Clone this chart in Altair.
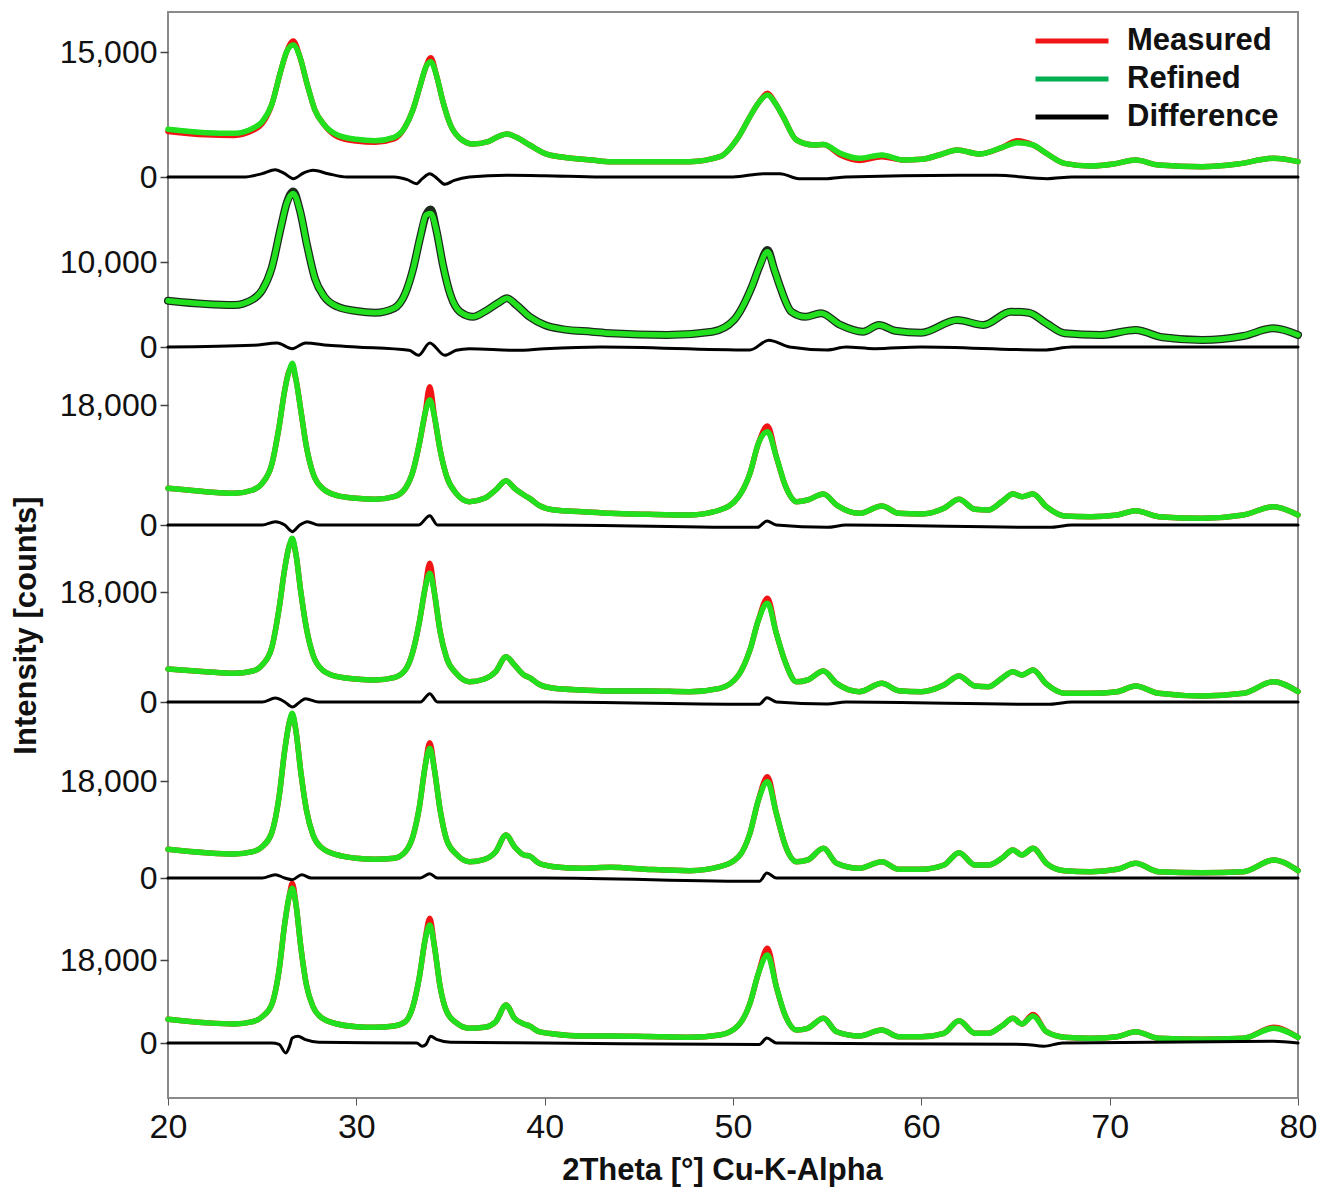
import altair as alt
import pandas as pd

# ---------------------------------------------------------------------------
# 2-theta sampling positions (degrees)
# ---------------------------------------------------------------------------
THETA_P1 = [20, 22, 23.5, 24.5, 25, 25.5, 26.0, 26.3, 26.65, 27.0,
            27.4, 27.8, 28.3, 29, 30, 31, 32, 32.6, 33.0, 33.4,
            33.7, 33.95, 34.25, 34.6, 35.0, 35.5, 36.2, 37.0, 37.6, 38.0,
            38.5, 39.2, 40, 41, 42.5, 43.5, 45.3, 47.7, 49.3, 50.3,
            51.0, 51.4, 51.83, 52.25, 52.66, 53.37, 54.3, 54.8, 55.7, 56.7,
            57.9, 59.06, 60.0, 60.95, 61.9, 63.1, 64.3, 65.1, 65.93, 66.64,
            67.6, 69.0, 70.2, 71.38, 72.6, 74.9, 76.8, 78.7, 80]

THETA_P2 = [20, 22, 23.5, 24.5, 25, 25.5, 26.0, 26.3, 26.65, 27.0,
            27.4, 27.8, 28.3, 29, 30, 31, 32, 32.6, 33.0, 33.4,
            33.7, 33.95, 34.25, 34.6, 35.0, 35.5, 36.2, 36.8, 37.5, 38.0,
            38.5, 39.2, 40, 41, 42.5, 43.5,
            46.5, 48.9, 50.05, 51.0, 51.4, 51.83, 52.2, 52.5, 53.1, 53.84,
            54.67, 55.7, 56.9, 57.75, 58.6, 60.0, 61.9, 63.3, 64.75, 65.7,
            66.64, 67.6, 69.5, 71.38, 72.8, 74.9, 77.1, 78.7, 80]

THETA_SHARP = [20, 22, 23.5, 24.5, 25, 25.5, 25.9, 26.2, 26.45, 26.6,
               26.8, 27.05, 27.35, 27.7, 28.2, 29, 30, 31, 32, 32.6,
               33.0, 33.35, 33.65, 33.9, 34.15, 34.45, 34.8, 35.3, 36.0, 36.8,
               37.4, 37.95, 38.4, 38.9, 39.2, 39.7, 40.5, 42, 43.5,
               45.5, 47.7, 49.3, 50.3, 50.9, 51.35, 51.83, 52.3, 52.8, 53.37,
               53.96, 54.8, 55.5, 56.7, 57.9, 58.8, 60.0, 61.2, 62.0, 62.85,
               63.56, 64.27, 64.86, 65.34, 65.93, 66.64, 67.6, 69.0, 70.4, 71.38,
               72.6, 74.9, 77.1, 78.7, 80]

# ---------------------------------------------------------------------------
# Intensities (counts): refined profile and measured data
# ---------------------------------------------------------------------------
REFINED_P1 = [5720, 5320, 5240, 5840, 6640, 8640, 12840, 15040, 15840, 14440,
              11040, 8040, 6240, 5040, 4520, 4360, 4760, 6040, 8040, 11040,
              13240, 13840, 12240, 9040, 6240, 4640, 3960, 4240, 4920, 5160,
              4760, 3840, 2840, 2360, 2040, 1840, 1840, 1840, 2440, 4840,
              7640, 9040, 9840, 8840, 7240, 4440, 3840, 3900, 2840, 2240,
              2640, 2040, 2120, 2640, 3240, 2760, 3560, 4120, 3840, 2840,
              1640, 1320, 1560, 2040, 1440, 1240, 1560, 2240, 1840]
MEASURED_P1 = [5470, 5070, 4990, 5590, 6400, 8640, 12840, 15040, 16320, 14440,
               11040, 8040, 6240, 4840, 4320, 4160, 4560, 6040, 8040, 11040,
               13240, 14320, 12240, 9040, 6240, 4640, 3960, 4240, 4920, 5160,
               4760, 3840, 2840, 2360, 2040, 1840, 1840, 1840, 2440, 4840,
               7640, 9040, 10040, 8840, 7240, 4440, 3840, 3900, 2640, 1990,
               2440, 2040, 2120, 2640, 3240, 2760, 3560, 4360, 3840, 2840,
               1640, 1320, 1560, 2040, 1440, 1240, 1560, 2240, 1840]

REFINED_P2 = [5450, 5060, 4940, 5610, 6700, 9250, 14150, 16900, 18070, 16110,
              11800, 8080, 5920, 4740, 4230, 4030, 4550, 6310, 9060, 12970,
              15520, 15720, 13760, 9640, 6120, 4150, 3560, 4150, 5140, 5730,
              4940, 3560, 2590, 2080, 1800, 1610,
              1410, 1800, 3180, 7090, 9440, 11200, 9060, 7090, 4150, 3560,
              3960, 2590, 1800, 2590, 1920, 1680, 3180, 2590, 4150, 4030,
              2790, 1610, 1410, 2000, 1140, 820, 1290, 2200, 1410]
MEASURED_P2 = [5450, 5060, 4940, 5610, 6700, 9250, 14150, 16900, 18300, 16110,
               11800, 8080, 5920, 4740, 4230, 4030, 4550, 6310, 9060, 12970,
               15520, 16190, 13760, 9640, 6120, 4150, 3560, 4150, 5140, 5730,
               4940, 3560, 2590, 2080, 1800, 1610,
               1410, 1800, 3180, 7090, 9440, 11400, 9060, 7090, 4150, 3560,
               3960, 2590, 1800, 2590, 1920, 1680, 3180, 2590, 4150, 4030,
               2790, 1610, 1410, 2000, 1140, 820, 1290, 2200, 1410]

REFINED_P3 = [5500, 5000, 4750, 5250, 6250, 9000, 14750, 20250, 23250, 24250,
              21750, 17250, 11750, 7750, 5500, 4400, 4000, 3850, 4250, 5500,
              8000, 12250, 16750, 18750, 16250, 11250, 7250, 4750, 3500, 4000,
              5250, 6650, 5500, 4500, 4000, 2950, 2250, 2000, 1750,
              1600, 1500, 2250, 4250, 7750, 12250, 14000, 10250, 5750, 3500,
              3750, 4650, 3000, 1750, 2850, 1750, 1650, 2500, 3850, 2350,
              2250, 3500, 4650, 4250, 4650, 2750, 1350, 1250, 1500, 2150,
              1250, 1000, 1500, 2750, 1500]
MEASURED_P3 = [5500, 5000, 4750, 5250, 6250, 9000, 14750, 20250, 23250, 23500,
               21750, 17250, 11750, 7750, 5500, 4400, 4000, 3850, 4250, 5500,
               8000, 12250, 16750, 20750, 16250, 11250, 7250, 4750, 3500, 4000,
               5250, 6650, 5500, 4500, 4000, 2950, 2250, 2000, 1750,
               1600, 1500, 2250, 4250, 7750, 12250, 14850, 10250, 5750, 3500,
               3750, 4650, 3000, 1750, 2850, 1750, 1650, 2500, 3850, 2350,
               2250, 3500, 4650, 4250, 4650, 2750, 1350, 1250, 1500, 2150,
               1250, 1000, 1500, 2750, 1500]

REFINED_P4 = [5400, 4960, 4690, 5070, 6050, 8780, 15330, 21870, 25690, 26780,
              24050, 18050, 12060, 7690, 5240, 4140, 3760, 3600, 3980, 5240,
              8230, 13140, 18600, 21050, 17780, 11500, 7150, 4690, 3320, 3760,
              4960, 7410, 6050, 4420, 3980, 2900, 2240, 1960, 1800,
              1800, 1690, 2240, 4420, 8510, 13420, 16150, 11240, 6330, 3320,
              3600, 5070, 3060, 1690, 3060, 1850, 1690, 2780, 4250, 2620,
              2510, 3880, 4960, 4420, 5240, 2950, 1420, 1420, 1690, 2620,
              1420, 980, 1420, 3320, 1690]
MEASURED_P4 = [5400, 4960, 4690, 5070, 6050, 8780, 15330, 21870, 25690, 26300,
               24050, 18050, 12060, 7690, 5240, 4140, 3760, 3600, 3980, 5240,
               8230, 13140, 18600, 22690, 17780, 11500, 7150, 4690, 3320, 3760,
               4960, 7410, 6050, 4420, 3980, 2900, 2240, 1960, 1800,
               1800, 1690, 2240, 4420, 8510, 13420, 16970, 11240, 6330, 3320,
               3600, 5070, 3060, 1690, 3060, 1850, 1690, 2780, 4250, 2620,
               2510, 3880, 4960, 4420, 5240, 2950, 1420, 1420, 1690, 2620,
               1420, 980, 1420, 3320, 1690]

REFINED_P5 = [5330, 4700, 4450, 4880, 5810, 8300, 15090, 23760, 29010, 30570,
              27150, 19730, 12620, 7980, 5510, 4270, 3660, 3470, 3660, 4880,
              7670, 13230, 20660, 24070, 20040, 12620, 7050, 4450, 3030, 3470,
              4880, 7980, 5810, 4270, 4080, 2730, 2100, 1800, 1980,
              1600, 1360, 2100, 3950, 8300, 14480, 17870, 12010, 5810, 3030,
              3340, 5510, 2730, 1800, 3030, 1610, 1610, 2410, 4700, 2410,
              2410, 3660, 5200, 4270, 5510, 2730, 1360, 1170, 1610, 2730,
              1170, 980, 1170, 3340, 1360]
MEASURED_P5 = [5330, 4700, 4450, 4880, 5810, 8300, 15090, 23760, 29010, 30200,
               27150, 19730, 12620, 7980, 5510, 4270, 3660, 3470, 3660, 4880,
               7670, 13230, 20660, 25110, 20040, 12620, 7050, 4450, 3030, 3470,
               4880, 7980, 5810, 4270, 4080, 2730, 2100, 1800, 1980,
               1600, 1360, 2100, 3950, 8300, 14480, 18800, 12010, 5810, 3030,
               3340, 5510, 2730, 1800, 3030, 1610, 1610, 2410, 4700, 2410,
               2410, 3660, 5200, 4270, 5510, 2730, 1360, 1170, 1610, 2730,
               1170, 980, 1170, 3340, 1360]

REFINED_P6 = [5140, 4400, 4120, 4620, 5700, 8240, 15830, 25960, 32100, 33550,
              29930, 20890, 12580, 7870, 5360, 4120, 3540, 3400, 3690, 4620,
              7870, 14380, 22340, 25590, 20890, 12210, 6790, 4400, 3190, 3400,
              4620, 8240, 5360, 4120, 3690, 2450, 1950, 1520, 1520,
              1400, 1240, 1740, 3900, 8610, 15120, 19090, 12210, 5700, 2820,
              3190, 5360, 2450, 1520, 2820, 1370, 1370, 2100, 4840, 2100,
              2100, 3690, 5360, 4120, 5860, 2450, 1240, 1020, 1370, 2450,
              1020, 800, 1020, 3190, 1240]
MEASURED_P6 = [5140, 4400, 4120, 4620, 5700, 8240, 15830, 25960, 32100, 34640,
               29930, 20890, 12580, 7870, 5360, 4120, 3540, 3400, 3690, 4620,
               7870, 14380, 22340, 27050, 20890, 12210, 6790, 4400, 3190, 3400,
               4620, 8240, 5360, 4120, 3690, 2450, 1950, 1520, 1520,
               1400, 1240, 1740, 3900, 8610, 15120, 20540, 12210, 5700, 2820,
               3190, 5360, 2450, 1520, 2820, 1370, 1370, 2100, 4840, 2100,
               2100, 3690, 5360, 4120, 6200, 2450, 1240, 1020, 1370, 2450,
               1020, 800, 1020, 3400, 1240]

# ---------------------------------------------------------------------------
# Difference curves (measured - refined, counts)
# ---------------------------------------------------------------------------
DIFF_THETA_P1 = [20, 24, 25, 25.7, 26.2, 26.65, 27.2, 27.7, 28.5, 29.5, 32, 32.7,
                 33.2, 33.5, 33.9, 34.3, 34.7, 35.2, 36, 38, 40, 43, 50, 51.6,
                 52.5, 53.5, 55, 56, 62, 64, 66.7, 68, 72, 80]
DIFF_P1 = [0, 0, 400, 880, 400, -200, 480, 800, 400, 0, 0, -320,
           -800, -200, 400, -200, -880, -400, 0, 200, 150, 0, 0, 400,
           400, -200, -200, 0, 200, 200, -200, 0, 0, 0]

DIFF_THETA_P2 = [20, 24.5, 25.8, 26.6, 27.3, 28.5, 30, 32.8, 33.3, 33.9, 34.7, 35.3,
                 36, 38.5, 40, 43, 50.9, 51.9, 53, 55, 56, 57.5, 60, 66.5, 68, 80]
DIFF_P2 = [0, 200, 470, -200, 470, 200, 0, -390, -980, 470, -980, -390,
           -200, -390, -200, 0, -350, 790, 0, -350, 0, -200, 0, -350, 0, 0]

DIFF_THETA_P3 = [20, 25, 25.7, 26.2, 26.6, 27.0, 27.4, 28, 33.3, 33.9, 34.3, 40,
                 51.3, 51.8, 52.3, 55, 56, 66.8, 68, 80]
DIFF_P3 = [0, 0, 500, 0, -1000, 0, 500, 0, 0, 1400, 0, 0,
           -350, 600, 0, -350, 0, -350, 0, 0]

DIFF_THETA_P4 = [20, 25, 25.7, 26.2, 26.6, 27.0, 27.3, 28, 33.4, 33.9, 34.3, 40,
                 51.4, 51.8, 52.3, 55, 56, 66.7, 68, 80]
DIFF_P4 = [0, 0, 650, 0, -820, 0, 550, 0, 0, 1360, 0, 0,
           -380, 700, 0, -330, 0, -380, 0, 0]

DIFF_THETA_P5 = [20, 25, 25.7, 26.2, 26.6, 27.1, 27.6, 33.4, 33.9, 34.3, 40,
                 51.4, 51.8, 52.3, 80]
DIFF_P5 = [0, 0, 620, 0, -310, 620, 0, 0, 800, 0, 0,
           -620, 930, 0, 0]

DIFF_THETA_P6 = [20, 25.5, 25.9, 26.25, 26.45, 26.6, 26.9, 27.3, 28, 33.2, 33.5, 33.7,
                 33.95, 34.3, 35, 40, 51.4, 51.8, 52.3, 65.5, 66.5, 67.5, 78.7, 80]
DIFF_P6 = [0, 0, -300, -2170, -720, 1080, 1450, 720, 150, 0, -720, -300,
           1450, 720, 150, 0, -300, 1080, 0, -300, -720, 0, 360, 0]

PATTERNS = [
    (THETA_P1, REFINED_P1, MEASURED_P1, DIFF_THETA_P1, DIFF_P1),
    (THETA_P2, REFINED_P2, MEASURED_P2, DIFF_THETA_P2, DIFF_P2),
    (THETA_SHARP, REFINED_P3, MEASURED_P3, DIFF_THETA_P3, DIFF_P3),
    (THETA_SHARP, REFINED_P4, MEASURED_P4, DIFF_THETA_P4, DIFF_P4),
    (THETA_SHARP, REFINED_P5, MEASURED_P5, DIFF_THETA_P5, DIFF_P5),
    (THETA_SHARP, REFINED_P6, MEASURED_P6, DIFF_THETA_P6, DIFF_P6),
]

# Stacking: each pattern sits on its own baseline; LABEL_SPAN is the height
# (in stacked units) that LABEL_COUNTS covers for that pattern.
BASELINE = [921, 751, 573, 396, 220, 55]
LABEL_COUNTS = [15000, 10000, 18000, 18000, 18000, 18000]
LABEL_SPAN = [125, 85, 120, 110, 97, 83]
STACK_RANGE = [0, 1086]

X_TICKS = [20, 30, 40, 50, 60, 70, 80]
SERIES = ["Measured", "Refined", "Difference"]

rows = []
for i, (theta, refined, measured, dtheta, diff) in enumerate(PATTERNS):
    k = LABEL_SPAN[i] / LABEL_COUNTS[i]
    for j, (t, r, m) in enumerate(zip(theta, refined, measured)):
        rows.append({"pattern": i + 1, "idx": j, "theta": t,
                     "level": BASELINE[i] + r * k, "series": "Refined"})
        rows.append({"pattern": i + 1, "idx": j, "theta": t,
                     "level": BASELINE[i] + m * k, "series": "Measured"})
    for j, (t, d) in enumerate(zip(dtheta, diff)):
        rows.append({"pattern": i + 1, "idx": j, "theta": t,
                     "level": BASELINE[i] + d * k, "series": "Difference"})
df = pd.DataFrame(rows)

meas_red = df[(df.series == "Measured") & (df.pattern != 2)]
meas_dark = df[(df.series == "Measured") & (df.pattern == 2)]
refined = df[df.series == "Refined"]
difference = df[df.series == "Difference"]

# y-axis ticks: a zero and one labelled count per pattern
tick_values, tick_labels = [], []
for i in range(len(BASELINE)):
    tick_values += [BASELINE[i], BASELINE[i] + LABEL_SPAN[i]]
    tick_labels += ["0", f"{LABEL_COUNTS[i]:,}"]
label_expr = "''"
for v, lab in zip(tick_values, tick_labels):
    label_expr = f"round(datum.value) == {v} ? '{lab}' : ({label_expr})"

FONT = "Liberation Sans"

x_enc = alt.X("theta:Q",
              scale=alt.Scale(domain=[20, 80], nice=False, zero=False),
              axis=alt.Axis(values=X_TICKS, title="2Theta [°] Cu-K-Alpha",
                            labelFontSize=34, labelFont=FONT, labelColor="#111",
                            labelFlush=False, labelPadding=5, tickSize=7,
                            tickColor="#555", domain=False, grid=False,
                            titleFontSize=31, titleFont=FONT, titleFontWeight="bold",
                            titleColor="#111", titleX=554, titleY=72,
                            titleAlign="center", titleBaseline="middle"))
y_enc = alt.Y("level:Q",
              scale=alt.Scale(domain=STACK_RANGE, nice=False, zero=False),
              axis=alt.Axis(values=tick_values, labelExpr=label_expr,
                            labelFontSize=32, labelFont=FONT, labelColor="#111",
                            labelPadding=3, labelOverlap=False, labelFlush=False,
                            tickSize=8, tickColor="#444", tickWidth=1.5,
                            domain=False, grid=False,
                            title="Intensity [counts]", titleFontSize=31,
                            titleFont=FONT, titleFontWeight="bold", titleColor="#111",
                            titleAngle=270, titleX=-142, titleY=613,
                            titleAlign="center", titleBaseline="middle"))

# Legend key: a wide horizontal dash (path spans twice the symbol box width)
color_enc = alt.Color("series:N",
                      scale=alt.Scale(domain=SERIES,
                                      range=["#f01414", "#00b050", "#000000"]),
                      legend=alt.Legend(orient="none", legendX=883, legendY=8,
                                        title=None, symbolType="M-2,0H2",
                                        symbolSize=1332, symbolStrokeWidth=5,
                                        labelFontSize=31, labelFont=FONT,
                                        labelFontWeight="bold", labelColor="#111",
                                        labelOffset=34, rowPadding=2, padding=0))

common = dict(x=x_enc, y=y_enc, detail="pattern:N", order="idx:Q")

measured_layer = alt.Chart(meas_red).mark_line(
    interpolate="monotone", strokeWidth=5.5, strokeCap="round", strokeJoin="round"
).encode(color=color_enc, **common)

measured_dark_layer = alt.Chart(meas_dark).mark_line(
    interpolate="monotone", strokeWidth=8, strokeCap="round", strokeJoin="round"
).encode(color=alt.value("#1c2a1c"), **common)

refined_key_layer = alt.Chart(refined).mark_line(
    interpolate="monotone", strokeWidth=4.5, strokeCap="round", strokeJoin="round"
).encode(color=color_enc, **common)

refined_layer = alt.Chart(refined).mark_line(
    interpolate="monotone", strokeWidth=5.5, strokeCap="round", strokeJoin="round"
).encode(color=alt.value("#22e01e"), **common)

difference_layer = alt.Chart(difference).mark_line(
    interpolate="monotone", strokeWidth=3, strokeCap="round", strokeJoin="round"
).encode(color=color_enc, **common)

chart = alt.layer(
    measured_layer, measured_dark_layer, refined_key_layer, refined_layer,
    difference_layer
).properties(
    width=1130, height=1086,
    autosize=alt.AutoSizeParams(type="none"),
    padding={"left": 168, "top": 12, "right": 21, "bottom": 90},
    background="white",
).configure_view(
    stroke="#8a8a8a", strokeWidth=2
)

chart.save("out.html", embed_options={"renderer": "svg", "actions": False})
